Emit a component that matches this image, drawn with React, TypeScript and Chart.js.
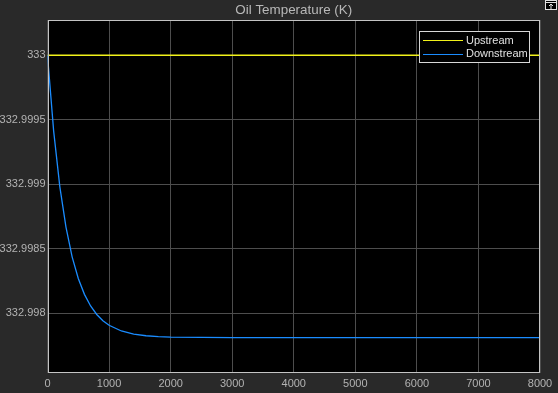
import React, { useEffect, useRef } from "react";
import { Chart, registerables } from "chart.js";

Chart.register(...registerables);

const TITLE = "Oil Temperature (K)";
const timeValues = [0, 100, 200, 300, 400, 500, 600, 700, 800, 900, 1000, 1200, 1400, 1600, 1800, 2000, 3000, 4000, 5000, 6000, 7000, 8000];
const upstream = [333, 333, 333, 333, 333, 333, 333, 333, 333, 333, 333, 333, 333, 333, 333, 333, 333, 333, 333, 333, 333, 333];
const downstream = [
  333.0, 332.999412, 332.998982, 332.998668, 332.998437, 332.998269, 332.998146, 332.998056,
  332.99799, 332.997942, 332.997906, 332.997862, 332.997838, 332.997825, 332.997818, 332.997814,
  332.99781, 332.99781, 332.99781, 332.99781, 332.99781, 332.99781,
];
const seriesNames = ["Upstream", "Downstream"];
const xTicks = [0, 1000, 2000, 3000, 4000, 5000, 6000, 7000, 8000];
const yTicks = [332.998, 332.9985, 332.999, 332.9995, 333];
const yTickLabels = ["332.998", "332.9985", "332.999", "332.9995", "333"];

const YELLOW = "#f2f21a";
const BLUE = "#1a8cff";
const BG = "#292929";
const FRAME = "#c4c4c4";
const GRID = "#4d4d4d";
const TEXT = "#b3b3b3";
const FONT = "'Liberation Sans', Arial, sans-serif";

export default function App() {
  const ref = useRef<HTMLCanvasElement | null>(null);

  useEffect(() => {
    document.body.style.margin = "0";
    document.body.style.background = BG;
    const canvas = ref.current!;
    const area = (chart: any) => {
      const x = chart.scales.x;
      const y = chart.scales.y;
      return { left: x.left, right: x.right, top: y.top, bottom: y.bottom };
    };
    const decorations = {
      id: "decorations",
      beforeDraw(chart: any) {
        const ctx = chart.ctx;
        ctx.save();
        ctx.fillStyle = BG;
        ctx.fillRect(0, 0, chart.width, chart.height);
        const a = area(chart);
        ctx.fillStyle = "#000";
        ctx.fillRect(a.left, a.top, a.right - a.left, a.bottom - a.top);
        ctx.restore();
      },
      afterDraw(chart: any) {
        const ctx = chart.ctx;
        const a = area(chart);
        ctx.save();
        ctx.strokeStyle = FRAME;
        ctx.lineWidth = 1;
        const l = Math.round(a.left) + 0.5, r = Math.round(a.right) - 0.5;
        const t = Math.round(a.top) + 0.5, b = Math.round(a.bottom) - 0.5;
        ctx.strokeRect(l, t, r - l, b - t);
        ctx.fillStyle = "#b8b8b8";
        ctx.font = `13.4px ${FONT}`;
        ctx.textAlign = "center";
        ctx.textBaseline = "middle";
        ctx.fillText(TITLE, (a.left + a.right) / 2, 10);
        const lx = 419.5, ly = 31.5, lw = 110, lh = 31;
        ctx.fillStyle = "#000";
        ctx.fillRect(lx, ly, lw, lh);
        ctx.strokeStyle = "#d8d8d8";
        ctx.strokeRect(lx, ly, lw, lh);
        const cols = [YELLOW, BLUE];
        ctx.font = `11px ${FONT}`;
        ctx.textAlign = "left";
        seriesNames.forEach((name, i) => {
          const yy = ly + 8.5 + i * 13.5;
          ctx.strokeStyle = cols[i];
          ctx.beginPath();
          ctx.moveTo(423, Math.round(yy) + 0.5);
          ctx.lineTo(463, Math.round(yy) + 0.5);
          ctx.stroke();
          ctx.fillStyle = "#e0e0e0";
          ctx.fillText(name, 466, yy + 0.5);
        });
        ctx.strokeStyle = "#e0e0e0";
        ctx.fillStyle = "#000";
        ctx.fillRect(545.5, 0.5, 11, 9);
        ctx.strokeRect(545.5, 0.5, 11, 9);
        ctx.beginPath();
        ctx.moveTo(545.5, 2.5);
        ctx.lineTo(556.5, 2.5);
        ctx.moveTo(551, 4);
        ctx.lineTo(551, 9);
        ctx.moveTo(549, 6);
        ctx.lineTo(551, 4);
        ctx.lineTo(553, 6);
        ctx.stroke();
        ctx.restore();
      },
    };

    const chart = new Chart(canvas, {
      type: "line",
      data: {
        labels: timeValues,
        datasets: [
          { label: seriesNames[0], data: timeValues.map((t, i) => ({ x: t, y: upstream[i] })), borderColor: YELLOW, borderWidth: 1.5, pointRadius: 0, tension: 0 },
          { label: seriesNames[1], data: timeValues.map((t, i) => ({ x: t, y: downstream[i] })), borderColor: BLUE, borderWidth: 1.3, pointRadius: 0, tension: 0 },
        ],
      },
      options: {
        animation: false,
        responsive: false,
        devicePixelRatio: 1,
        layout: { padding: { left: 0, right: 18, top: 20, bottom: 0 } },
        plugins: { legend: { display: false }, title: { display: false }, tooltip: { enabled: false } },
        scales: {
          x: {
            type: "linear", min: 0, max: 8000,
            afterBuildTicks: (axis: any) => { axis.ticks = xTicks.map((v) => ({ value: v })); },
            afterFit: (axis: any) => { axis.height = 20; },
            ticks: { color: TEXT, font: { family: FONT, size: 11 }, padding: 4, maxRotation: 0, autoSkip: false, callback: (v: any) => String(v) },
            grid: { color: GRID, drawTicks: false, lineWidth: 1 },
            border: { display: false },
          },
          y: {
            type: "linear", min: 332.997536, max: 333.000274,
            afterBuildTicks: (axis: any) => { axis.ticks = yTicks.map((v) => ({ value: v })); },
            afterFit: (axis: any) => { axis.width = 47.5; },
            ticks: {
              color: TEXT, font: { family: FONT, size: 11 }, padding: 2, autoSkip: false,
              callback: (v: any) => { const i = yTicks.findIndex((t) => Math.abs(t - v) < 1e-7); return i >= 0 ? yTickLabels[i] : ""; },
            },
            grid: { color: GRID, drawTicks: false, lineWidth: 1 },
            border: { display: false },
          },
        },
      },
      plugins: [decorations],
    });
    return () => chart.destroy();
  }, []);

  return (
    <div style={{ position: "absolute", left: 0, top: 0, width: 558, height: 393, background: BG }}>
      <canvas ref={ref} width={558} height={393} style={{ display: "block", width: 558, height: 393 }} />
    </div>
  );
}
